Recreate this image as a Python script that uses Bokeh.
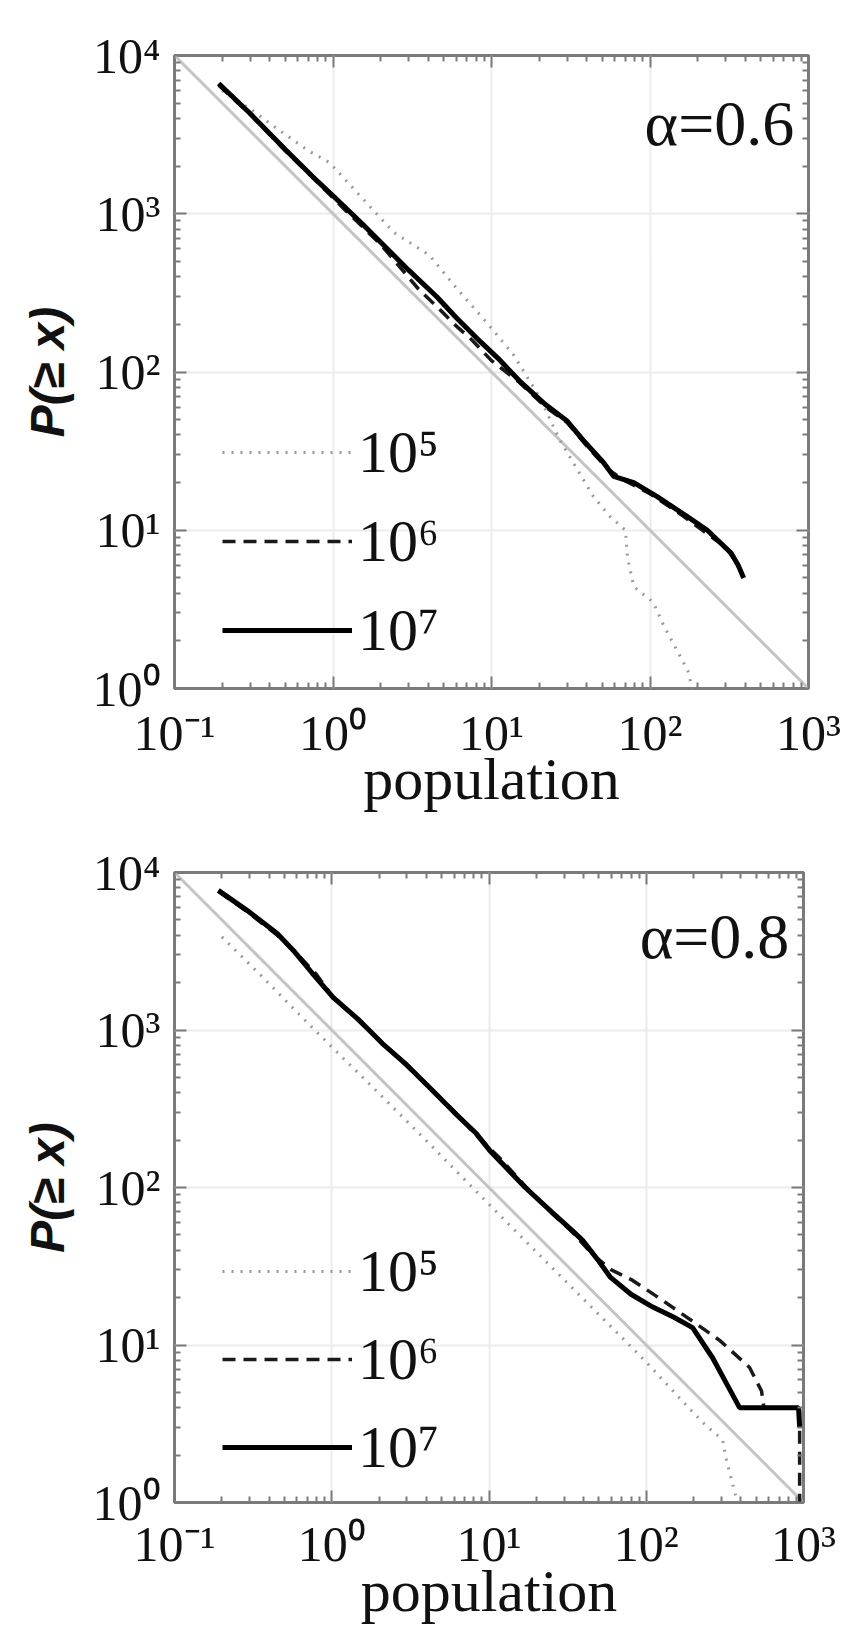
from bokeh.plotting import figure
from bokeh.models import Range1d, FixedTicker, LogAxis, Legend, LegendItem, Label
from bokeh.layouts import column
from bokeh.embed import file_html
from bokeh.resources import INLINE

# ---------------- data ----------------
X_TICKS = [0.1, 1, 10, 100, 1000]
X_TICK_LABELS = ["10⁻¹", "10⁰", "10¹", "10²", "10³"]
Y_TICKS = [1, 10, 100, 1000, 10000]
Y_TICK_LABELS = ["10⁰", "10¹", "10²", "10³", "10⁴"]
SERIES_LABELS = ["10⁵", "10⁶", "10⁷"]

# reference power law (slope -1)
REF_X = [0.1, 1000]
REF_Y = [10000, 1]

# alpha = 0.6
A06_DOT_X = [0.2, 0.3, 0.44, 0.7, 0.95, 1.41, 2.41, 4.06, 6.0, 9.3, 13.8, 20, 27, 35, 44, 56, 70, 72, 79, 105, 122, 155, 173, 185]
A06_DOT_Y = [6000, 4600, 3470, 2500, 2110, 1370, 764, 547, 339, 206, 128, 70, 37, 24, 16.3, 12.2, 10, 6.8, 4.4, 3.5, 2.5, 1.6, 1.3, 1.0]
A06_DASH_X = [0.19, 0.3, 0.5, 0.8, 1.2, 2.0, 2.8, 3.5, 4.5, 6.0, 7.5, 10, 15, 22, 30, 40, 55, 70, 100, 150, 220, 300, 350]
A06_DASH_Y = [6500, 4250, 2500, 1580, 1050, 640, 430, 330, 260, 195, 160, 118, 86, 60, 48, 34, 24, 20.5, 17, 13, 9.8, 7.8, 6.3]
A06_SOLID_X = [0.19, 0.3, 0.5, 0.8, 1.0, 1.5, 2.0, 3.0, 4.5, 6.0, 8.0, 11, 15, 22, 30, 38, 51, 59, 79, 111, 172, 230, 279, 324, 360, 390]
A06_SOLID_Y = [6660, 4300, 2550, 1600, 1300, 880, 660, 440, 300, 220, 165, 122, 88, 62, 49, 37, 26.7, 21.9, 20, 16.3, 12.2, 10, 8.3, 7.2, 6.0, 5.0]

# alpha = 0.8
A08_DOT_X = [0.2, 0.35, 0.6, 1.0, 2.0, 4.0, 8.0, 15, 30, 60, 100, 163, 230, 306, 322, 355, 380]
A08_DOT_Y = [3900, 2250, 1300, 780, 395, 198, 98, 52, 26, 13, 7.8, 4.6, 3.2, 2.5, 1.9, 1.3, 1.0]
A08_DASH_X = [0.19, 0.3, 0.45, 0.6, 0.8, 1.0, 1.5, 2.1, 3.0, 4.2, 6.0, 8.3, 12, 17, 25, 34, 45, 60, 82, 127, 200, 293, 454, 541, 560, 945, 945]
A08_DASH_Y = [7600, 5500, 4000, 3050, 2250, 1650, 1130, 830, 590, 430, 305, 215, 150, 102, 69, 52, 38, 30, 25.7, 19.2, 14, 10.7, 7.2, 5.1, 4.0, 4.0, 1.0]
A08_SOLID_X = [0.19, 0.3, 0.45, 0.57, 0.75, 1.02, 1.5, 2.1, 3.0, 4.2, 6.0, 8.3, 10.1, 17, 25, 34, 39.5, 50, 59, 80, 110, 150, 197, 264, 330, 392, 930, 945]
A08_SOLID_Y = [7700, 5600, 4100, 3200, 2300, 1610, 1150, 820, 600, 430, 300, 220, 172, 100, 70, 53, 46, 34, 27, 21, 17.4, 15, 12.9, 8.3, 5.5, 4.0, 4.0, 3.0]

# ---------------- styling ----------------
SERIF = "Liberation Serif"
AXIS_GRAY = "#7a7a7a"
X_MINOR = [k * 10.0 ** e for e in range(-1, 3) for k in range(2, 10)]
Y_MINOR = [k * 10.0 ** e for e in range(0, 4) for k in range(2, 10)]
LEFT = 174
TOTAL_W = 842


def overrides(ticks, labels):
    d = {}
    for v, lab in zip(ticks, labels):
        key = int(v) if v >= 1 else v
        d[key] = lab
    return d


def style_ticks(ax):
    ax.axis_line_color = None
    ax.major_tick_in = 12
    ax.major_tick_out = 0
    ax.minor_tick_in = 6
    ax.minor_tick_out = 0
    ax.major_tick_line_color = AXIS_GRAY
    ax.minor_tick_line_color = AXIS_GRAY
    ax.major_tick_line_width = 2
    ax.minor_tick_line_width = 2


def make_panel(alpha_text, dot, dash, solid, frame_w, frame_h, b_top, b_bottom,
               tick_standoff, xlabel_standoff, legend_y, legend_spacing, alpha_y):
    p = figure(x_axis_type="log", y_axis_type="log",
               x_range=Range1d(X_TICKS[0], X_TICKS[-1]),
               y_range=Range1d(Y_TICKS[0], Y_TICKS[-1]),
               frame_width=frame_w, frame_height=frame_h,
               min_border_left=LEFT, min_border_right=TOTAL_W - LEFT - frame_w,
               min_border_top=b_top, min_border_bottom=b_bottom,
               output_backend="svg", toolbar_location=None)
    p.outline_line_color = AXIS_GRAY
    p.outline_line_width = 3
    p.background_fill_color = "white"
    p.border_fill_color = "white"

    xt = FixedTicker(ticks=X_TICKS, minor_ticks=X_MINOR)
    yt = FixedTicker(ticks=Y_TICKS, minor_ticks=Y_MINOR)

    xa = p.xaxis[0]
    xa.ticker = xt
    xa.major_label_overrides = overrides(X_TICKS, X_TICK_LABELS)
    xa.major_label_text_font = SERIF
    xa.major_label_text_font_size = "50px"
    xa.major_label_text_color = "#111111"
    xa.major_label_standoff = tick_standoff
    xa.axis_label = "population"
    xa.axis_label_text_font = SERIF
    xa.axis_label_text_font_style = "normal"
    xa.axis_label_text_font_size = "60px"
    xa.axis_label_text_color = "#111111"
    xa.axis_label_standoff = xlabel_standoff
    style_ticks(xa)

    ya = p.yaxis[0]
    ya.ticker = yt
    ya.major_label_overrides = overrides(Y_TICKS, Y_TICK_LABELS)
    ya.major_label_text_font = SERIF
    ya.major_label_text_font_size = "50px"
    ya.major_label_text_color = "#111111"
    ya.major_label_text_baseline = "alphabetic"
    ya.major_label_standoff = 14
    ya.axis_label = "P(≥ x)"
    ya.axis_label_text_font = "Liberation Sans"
    ya.axis_label_text_font_style = "bold italic"
    ya.axis_label_text_font_size = "48px"
    ya.axis_label_text_color = "#111111"
    ya.axis_label_standoff = 16
    style_ticks(ya)

    top_ax = LogAxis(ticker=xt, major_label_overrides=overrides(X_TICKS, [""] * len(X_TICKS)),
                     major_label_standoff=0, major_label_text_font_size="10px")
    style_ticks(top_ax)
    p.add_layout(top_ax, "above")
    right_ax = LogAxis(ticker=yt, major_label_overrides=overrides(Y_TICKS, [""] * len(Y_TICKS)),
                       major_label_standoff=0, major_label_text_font_size="10px")
    style_ticks(right_ax)
    p.add_layout(right_ax, "right")

    p.xgrid.ticker = xt
    p.ygrid.ticker = yt
    p.xgrid.grid_line_color = "#ececec"
    p.ygrid.grid_line_color = "#ececec"
    p.xgrid.grid_line_width = 2
    p.ygrid.grid_line_width = 2

    p.line(REF_X, REF_Y, line_color="#c4c4c4", line_width=3)
    r_dot = p.line(dot[0], dot[1], line_color="#9a9a9a", line_width=3, line_dash="2 7")
    r_dash = p.line(dash[0], dash[1], line_color="#1a1a1a", line_width=3.5, line_dash="13 8")
    r_solid = p.line(solid[0], solid[1], line_color="#000000", line_width=5)

    legend = Legend(items=[LegendItem(label=SERIES_LABELS[0], renderers=[r_dot]),
                           LegendItem(label=SERIES_LABELS[1], renderers=[r_dash]),
                           LegendItem(label=SERIES_LABELS[2], renderers=[r_solid])],
                    location=(48, legend_y), orientation="vertical",
                    background_fill_alpha=0, border_line_color=None,
                    padding=0, margin=0, spacing=legend_spacing,
                    glyph_width=130, glyph_height=70, label_height=70,
                    label_standoff=6, label_text_font=SERIF,
                    label_text_font_size="60px", label_text_color="#111111")
    p.add_layout(legend)

    p.add_layout(Label(x=813, y=alpha_y, text=alpha_text, text_align="right",
                       text_baseline="middle", text_font=SERIF,
                       text_font_size="64px", text_color="#111111"))
    return p


p1 = make_panel("α=0.6", (A06_DOT_X, A06_DOT_Y), (A06_DASH_X, A06_DASH_Y),
                (A06_SOLID_X, A06_SOLID_Y), 634, 633, 55, 130, 16, -18, 23, 19, 3700)
p2 = make_panel("α=0.8", (A08_DOT_X, A08_DOT_Y), (A08_DASH_X, A08_DASH_Y),
                (A08_SOLID_X, A08_SOLID_Y), 629, 630, 54, 117, 13, -17, 20, 18, 3900)

layout = column(p1, p2, spacing=0)
open("out.html", "w").write(file_html(layout, INLINE))
